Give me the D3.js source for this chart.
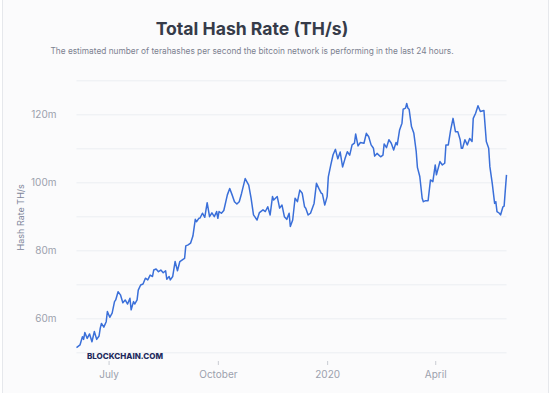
<!DOCTYPE html>
<html>
<head>
<meta charset="utf-8">
<script src="https://cdn.jsdelivr.net/npm/d3@7"></script>
<style>
  body { margin: 0; background: #ffffff; }
  svg { display: block; font-family: Inter, "Noto Sans", sans-serif; }
</style>
</head>
<body>
<script>
// daily samples
var dates = [
  '2019-06-04','2019-06-07','2019-06-09','2019-06-10','2019-06-11','2019-06-13','2019-06-15','2019-06-17',
  '2019-06-19','2019-06-21','2019-06-23','2019-06-24','2019-06-25','2019-06-27','2019-06-29','2019-06-30',
  '2019-07-02','2019-07-04','2019-07-06','2019-07-07','2019-07-09','2019-07-11','2019-07-13','2019-07-15',
  '2019-07-17','2019-07-19','2019-07-20','2019-07-22','2019-07-23','2019-07-25','2019-07-26','2019-07-28',
  '2019-07-30','2019-08-01','2019-08-03','2019-08-05','2019-08-07','2019-08-08','2019-08-10','2019-08-12',
  '2019-08-14','2019-08-16','2019-08-18','2019-08-19','2019-08-21','2019-08-22','2019-08-24','2019-08-26',
  '2019-08-28','2019-08-30','2019-09-02','2019-09-03','2019-09-04','2019-09-06','2019-09-08','2019-09-10',
  '2019-09-12','2019-09-13','2019-09-15','2019-09-16','2019-09-18','2019-09-20','2019-09-22','2019-09-24',
  '2019-09-26','2019-09-28','2019-09-30','2019-10-01','2019-10-02','2019-10-04','2019-10-06','2019-10-09',
  '2019-10-11','2019-10-13','2019-10-15','2019-10-17','2019-10-19','2019-10-21','2019-10-24','2019-10-27',
  '2019-10-29','2019-10-31','2019-11-03','2019-11-05','2019-11-08','2019-11-10','2019-11-12','2019-11-14',
  '2019-11-16','2019-11-17','2019-11-20','2019-11-22','2019-11-24','2019-11-26','2019-11-28','2019-11-30',
  '2019-12-01','2019-12-03','2019-12-05','2019-12-07','2019-12-09','2019-12-11','2019-12-13','2019-12-14',
  '2019-12-16','2019-12-18','2019-12-21','2019-12-23','2019-12-25','2019-12-27','2019-12-28','2019-12-30',
  '2020-01-01','2020-01-02','2020-01-04','2020-01-06','2020-01-08','2020-01-10','2020-01-12','2020-01-14',
  '2020-01-16','2020-01-18','2020-01-20','2020-01-22','2020-01-24','2020-01-25','2020-01-27','2020-01-29',
  '2020-02-01','2020-02-03','2020-02-05','2020-02-07','2020-02-09','2020-02-10','2020-02-12','2020-02-15',
  '2020-02-17','2020-02-18','2020-02-20','2020-02-22','2020-02-24','2020-02-26','2020-02-28','2020-02-29',
  '2020-03-02','2020-03-04','2020-03-05','2020-03-07','2020-03-08','2020-03-09','2020-03-10','2020-03-12',
  '2020-03-14','2020-03-16','2020-03-17','2020-03-19','2020-03-21','2020-03-22','2020-03-24','2020-03-26',
  '2020-03-28','2020-03-30','2020-04-01','2020-04-02','2020-04-05','2020-04-07','2020-04-09','2020-04-10',
  '2020-04-12','2020-04-14','2020-04-16','2020-04-18','2020-04-20','2020-04-22','2020-04-23','2020-04-24',
  '2020-04-26','2020-04-28','2020-04-30','2020-05-02','2020-05-03','2020-05-05','2020-05-07','2020-05-09',
  '2020-05-12','2020-05-14','2020-05-16','2020-05-17','2020-05-19','2020-05-21','2020-05-22','2020-05-23',
  '2020-05-25','2020-05-26','2020-05-28','2020-05-29','2020-05-30','2020-05-31'
];

// hash rate, millions of TH/s
var hashRate = [
  51.4, 52.2, 54.6, 53.8, 55.8, 54.1, 55.4, 53.1,
  56.1, 53.8, 54.8, 57.1, 58.5, 57.4, 59.0, 62.0,
  60.3, 61.5, 64.9, 65.4, 67.8, 66.9, 64.6, 65.4,
  64.2, 65.9, 62.5, 64.9, 64.2, 65.4, 68.3, 69.8,
  70.1, 71.8, 71.3, 72.7, 72.3, 74.2, 74.5, 73.7,
  74.2, 73.4, 74.0, 71.5, 72.3, 71.3, 72.3, 76.7,
  74.0, 76.7, 77.4, 77.6, 81.3, 81.6, 82.1, 84.2,
  89.1, 88.4, 89.4, 89.5, 90.9, 89.7, 94.0, 89.9,
  91.0, 89.9, 91.4, 89.4, 91.4, 90.9, 91.7, 96.3,
  98.2, 96.3, 94.3, 93.6, 94.3, 96.8, 101.1, 99.2,
  95.3, 90.4, 88.9, 91.1, 91.9, 91.4, 92.8, 90.4,
  95.8, 94.8, 95.8, 92.4, 93.3, 89.9, 89.1, 90.9,
  87.0, 88.9, 95.3, 94.3, 97.7, 96.8, 92.8, 92.4,
  90.4, 90.9, 93.8, 99.7, 98.2, 96.8, 96.6, 93.3,
  95.8, 101.6, 105.0, 108.1, 109.7, 106.9, 108.9, 104.5,
  106.9, 109.0, 108.0, 111.0, 111.5, 114.2, 110.7, 111.7,
  111.5, 114.4, 113.4, 111.0, 110.0, 107.7, 108.5, 107.5,
  108.0, 111.3, 110.2, 112.5, 111.5, 109.5, 111.7, 111.0,
  115.4, 117.4, 121.5, 121.8, 123.2, 121.8, 121.5, 116.4,
  114.4, 109.0, 104.4, 101.7, 95.3, 94.3, 94.6, 94.6,
  100.7, 100.2, 105.1, 102.2, 106.1, 105.1, 105.6, 111.0,
  111.0, 115.4, 118.8, 114.9, 114.9, 112.5, 110.0, 110.0,
  112.5, 111.0, 112.9, 112.0, 118.8, 120.3, 122.5, 120.8,
  121.1, 112.0, 110.0, 104.6, 99.7, 93.8, 94.3, 91.4,
  90.9, 90.4, 92.8, 93.0, 97.7, 102.2
];

var xTickDates = ['2019-07-01', '2019-10-01', '2020-01-01', '2020-04-01'];
var xTickLabels = ['July', 'October', '2020', 'April'];
var yDomain = [50, 130];

var W = 551, H = 393;
var plotLeft = 76.5, plotRight = 506.5, plotTop = 80.3, plotBottom = 352.3;

var parse = d3.utcParse('%Y-%m-%d');
var points = dates.map(function(d, i){ return { date: parse(d), value: hashRate[i] }; });

var svg = d3.select('body').append('svg')
  .attr('width', W)
  .attr('height', H);

// card
svg.append('rect')
  .attr('x', 2.5).attr('y', -2)
  .attr('width', 546).attr('height', H + 4)
  .attr('fill', '#fbfbfc')
  .attr('stroke', '#e6e8ec');

svg.append('text')
  .attr('x', 252).attr('y', 35)
  .attr('text-anchor', 'middle')
  .attr('font-size', 17.6)
  .attr('font-weight', 700)
  .attr('fill', '#363b49')
  .text('Total Hash Rate (TH/s)');

svg.append('text')
  .attr('x', 252).attr('y', 54)
  .attr('text-anchor', 'middle')
  .attr('font-size', 8.3)
  .attr('fill', '#7c8190')
  .text('The estimated number of terahashes per second the bitcoin network is performing in the last 24 hours.');

var x = d3.scaleUtc()
  .domain([parse('2019-06-04'), parse('2020-05-31')])
  .range([plotLeft, plotRight]);

var y = d3.scaleLinear()
  .domain(yDomain)
  .range([plotBottom, plotTop]);

// y gridlines + labels
var yAxis = d3.axisLeft(y)
  .tickValues(d3.range(yDomain[0], yDomain[1] + 1, 10))
  .tickSize(-(plotRight - plotLeft))
  .tickPadding(20)
  .tickFormat(function(d){ return (d % 20 === 0 && d > yDomain[0]) ? d + 'm' : ''; });

var gy = svg.append('g')
  .attr('transform', 'translate(' + plotLeft + ',0)')
  .call(yAxis);
gy.select('.domain').remove();
gy.selectAll('line').attr('stroke', '#eceef2');
gy.selectAll('text')
  .attr('fill', '#9ca1ad')
  .attr('font-size', 10)
  .attr('font-family', 'Inter, sans-serif');

// x axis
var xAxis = d3.axisBottom(x)
  .tickValues(xTickDates.map(parse))
  .tickSize(4)
  .tickPadding(6)
  .tickFormat(function(d, i){ return xTickLabels[i]; });

var gx = svg.append('g')
  .attr('transform', 'translate(0,361)')
  .call(xAxis);
gx.select('.domain').remove();
gx.selectAll('line').attr('stroke', '#c9ccd3');
gx.selectAll('text')
  .attr('fill', '#9ca1ad')
  .attr('font-size', 10)
  .attr('font-family', 'Inter, sans-serif');

svg.append('text')
  .attr('transform', 'translate(24,' + ((plotTop + plotBottom) / 2 + 1) + ') rotate(-90)')
  .attr('text-anchor', 'middle')
  .attr('font-size', 9)
  .attr('fill', '#80869a')
  .text('Hash Rate TH/s');

var line = d3.line()
  .x(function(d){ return x(d.date); })
  .y(function(d){ return y(d.value); });

svg.append('path')
  .datum(points)
  .attr('d', line)
  .attr('fill', 'none')
  .attr('stroke', '#3a6fd9')
  .attr('stroke-width', 1.5)
  .attr('stroke-linejoin', 'round');

svg.append('text')
  .attr('x', 87).attr('y', 359)
  .attr('font-size', 8)
  .attr('font-weight', 800)
  .attr('fill', '#1f2b5e')
  .text('BLOCKCHAIN.COM');
</script>
</body>
</html>
